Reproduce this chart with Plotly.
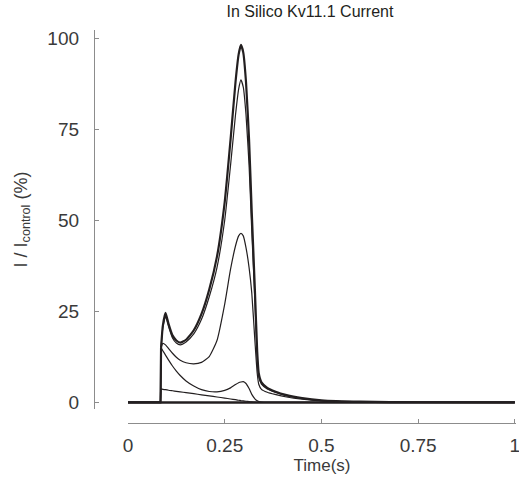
import plotly.graph_objects as go

# Time (s)
time_s = [0, 0.084, 0.0855, 0.09, 0.097, 0.105, 0.115, 0.125, 0.135, 0.15, 0.17, 0.19,
          0.21, 0.23, 0.25, 0.265, 0.278, 0.286, 0.292, 0.298, 0.305, 0.313, 0.320,
          0.328, 0.334, 0.338, 0.345, 0.36, 0.38, 0.41, 0.45, 0.5, 0.6, 0.75, 1.0]

# I / I_control (%) for each simulated condition
curve_control = [0, 0, 15, 21, 24.6, 21.5, 18.4, 17.0, 16.4, 17.2, 19.8, 24.3,
                 31, 40, 55, 72, 88, 95.5, 98.1, 96, 88, 72, 52,
                 31, 14, 8, 5.5, 4, 3, 2, 1.2, 0.6, 0.2, 0.05, 0]
curve_low = [0, 0, 15, 20.5, 23.6, 20.8, 17.7, 16.3, 15.8, 16.6, 18.8, 22.8,
             29, 37, 50, 65, 79, 86, 88.5, 86.5, 79, 65, 47,
             28, 12, 7, 5, 3.7, 2.8, 1.8, 1.1, 0.5, 0.2, 0.05, 0]
curve_mid = [0, 0, 15, 16.2, 15.8, 14.8, 13.5, 12.4, 11.6, 10.9, 10.6, 11.0,
             12.6, 17, 27, 36.5, 43, 45.7, 46.4, 45.7, 42.5, 37, 30,
             17, 8, 5, 3.6, 2.8, 2.2, 1.5, 0.9, 0.45, 0.15, 0.04, 0]
curve_high = [0, 0, 15, 14.2, 13.0, 11.6, 10.0, 8.6, 7.4, 5.9, 4.5, 3.5,
              3.0, 2.9, 3.3, 4.0, 4.9, 5.4, 5.6, 5.7, 5.2, 3.8, 2.2,
              1.0, 0.45, 0.25, 0.1, 0, 0, 0, 0, 0, 0, 0, 0]
curve_higher = [0, 0, 3.7, 3.6, 3.5, 3.35, 3.2, 3.05, 2.9, 2.7, 2.4, 2.1,
                1.8, 1.5, 1.2, 0.95, 0.75, 0.6, 0.5, 0.42, 0.33, 0.22, 0.14,
                0.07, 0.03, 0, 0, 0, 0, 0, 0, 0, 0, 0, 0]
curve_block = [0] * len(time_s)

x_ticks = [0, 0.25, 0.5, 0.75, 1]
x_tick_text = ["0", "0.25", "0.5", "0.75", "1"]
y_ticks = [0, 25, 50, 75, 100]

INK = "#231f20"
AXIS = "#8c8c8c"
TXT = "#3a3a3a"

series = [
    (curve_block, 2.4),
    (curve_higher, 1.2),
    (curve_high, 1.2),
    (curve_mid, 1.2),
    (curve_low, 1.2),
    (curve_control, 2.2),
]

STEP = 2  # index of the stimulus onset sample

fig = go.Figure()
for vals, w in series:
    # holding period + onset step: straight segments
    fig.add_trace(go.Scatter(
        x=time_s[:STEP + 1], y=vals[:STEP + 1], mode="lines",
        line=dict(color=INK, width=1.2 if w < 2 else w, shape="linear"),
        showlegend=False, hoverinfo="skip"))
    # response after onset: smoothed
    fig.add_trace(go.Scatter(
        x=time_s[STEP:], y=vals[STEP:], mode="lines",
        line=dict(color=INK, width=w, shape="spline", smoothing=0.5),
        showlegend=False, hoverinfo="skip"))

W, H = 519, 482
L, R, T, B = 94, 3, 30, 59
plot_w = W - L - R
plot_h = H - T - B

fig.update_layout(
    width=W, height=H,
    margin=dict(l=L, r=R, t=T, b=B, autoexpand=False),
    paper_bgcolor="white", plot_bgcolor="white",
    font=dict(family="Liberation Sans, Arial, sans-serif", color=TXT),
    title=dict(text="In Silico Kv11.1 Current", x=310 / W, xanchor="center",
               y=1 - 11 / H, yanchor="middle", yref="container",
               font=dict(size=16, color="#231f20", family="Liberation Sans, Arial, sans-serif")),
    xaxis=dict(
        domain=[(128 - L) / plot_w, 1], range=[0, 1.003],
        anchor="free", position=0, automargin=False,
        showline=True, linecolor=AXIS, linewidth=1.3,
        ticks="inside", ticklen=4, tickcolor=AXIS, tickwidth=1.3,
        tickvals=x_ticks, ticktext=x_tick_text,
        tickfont=dict(size=19, color=TXT), ticklabelstandoff=5,
        ticklabeloverflow="allow",
        showgrid=False, zeroline=False,
        title=dict(text="Time(s)", font=dict(size=17, color=TXT), standoff=0),
    ),
    yaxis=dict(
        domain=[(423 - 409) / plot_h, 1], range=[-1.8, 102.2],
        anchor="free", position=0, automargin=False,
        showline=True, linecolor=AXIS, linewidth=1.3,
        ticks="inside", ticklen=4, tickcolor=AXIS, tickwidth=1.3,
        tickvals=y_ticks,
        tickfont=dict(size=19, color=TXT), ticklabelstandoff=11,
        showgrid=False, zeroline=False,
        title=dict(text="I / I<sub>control</sub> (%)", font=dict(size=18, color=TXT), standoff=14),
    ),
)

fig.write_html("out.html")
